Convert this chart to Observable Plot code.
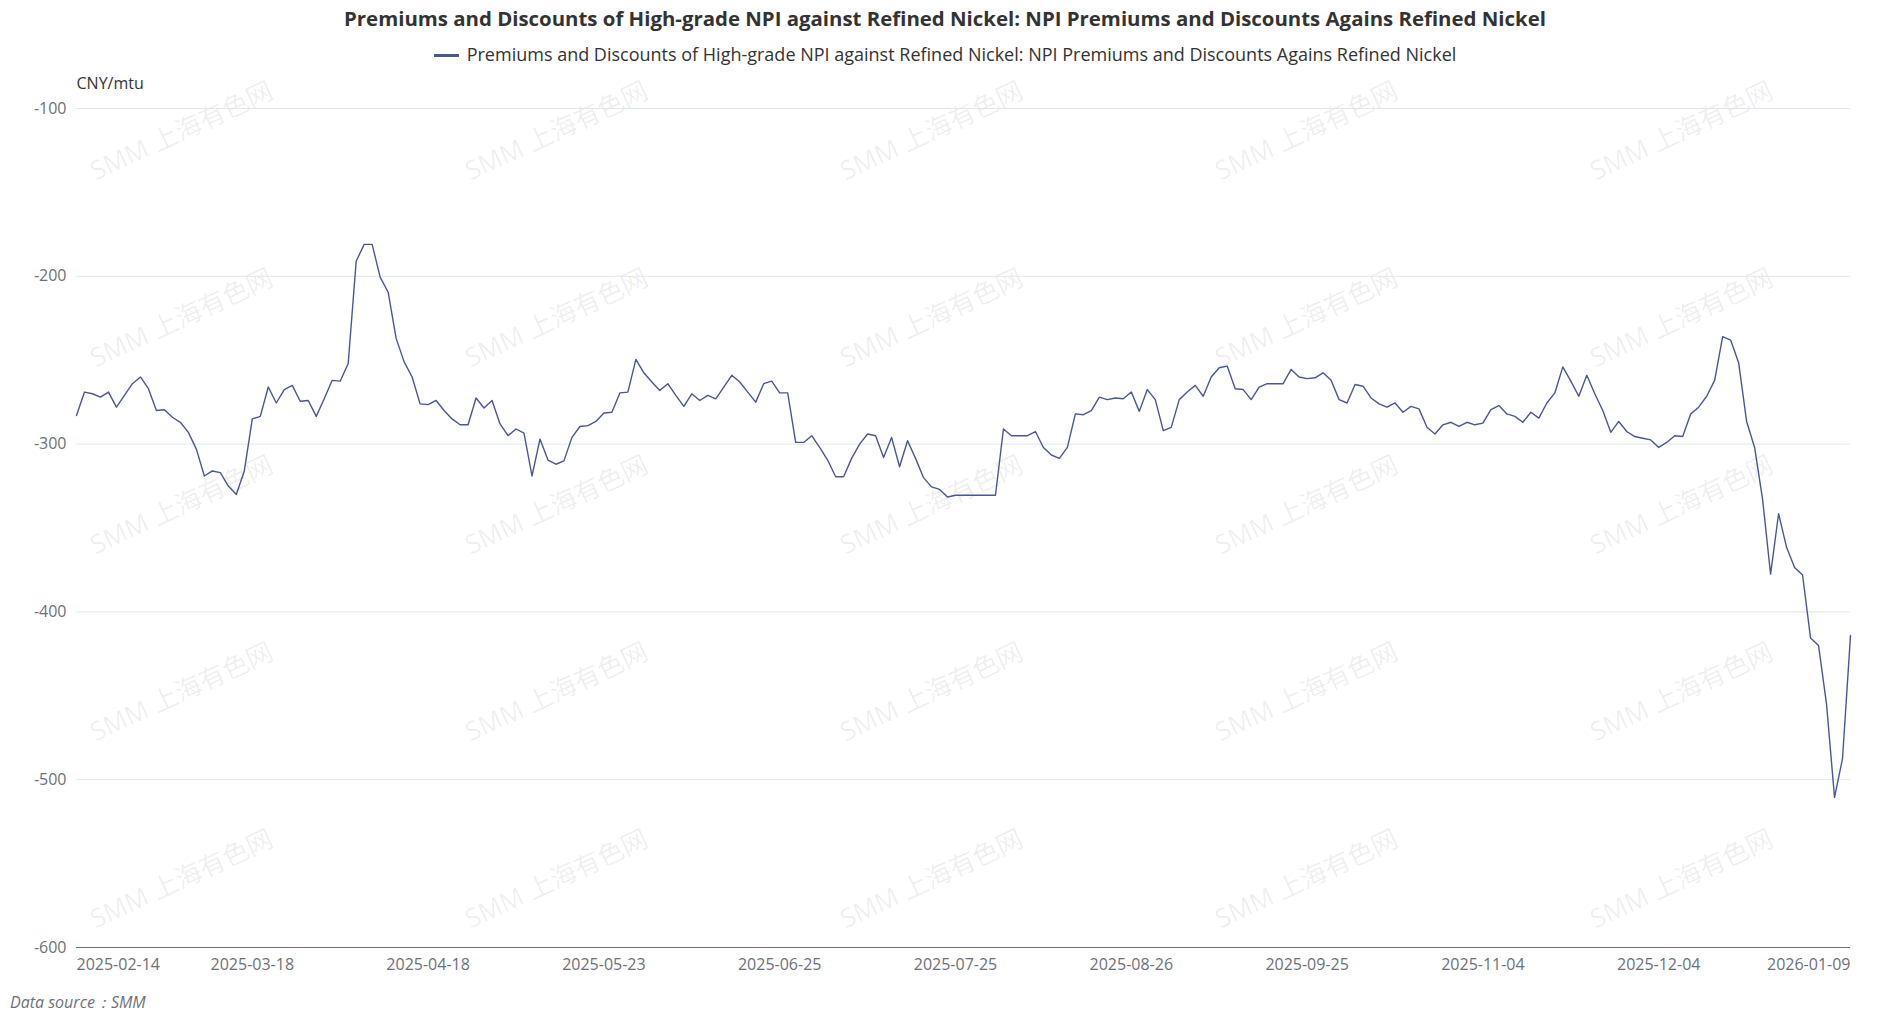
<!DOCTYPE html>
<html>
<head>
<meta charset="utf-8">
<script src="https://cdn.jsdelivr.net/npm/d3@7"></script>
<script src="https://cdn.jsdelivr.net/npm/@observablehq/plot@0.6"></script>
<style>
  html, body { margin: 0; padding: 0; background: #fff; }
  #page { position: relative; width: 1890px; height: 1017px; overflow: hidden; font-family: "Open Sans", "Noto Sans", sans-serif; }
  #title { position: absolute; left: 0; width: 1890px; top: 6px; text-align: center; font-size: 20.4px; line-height: 24px; font-weight: 700; color: #333; white-space: nowrap; }
  #legend { position: absolute; left: 0; width: 1890px; top: 43px; text-align: center; font-size: 18px; line-height: 22px; color: #333; white-space: nowrap; }
  #legend .swatch { display: inline-block; width: 25px; height: 3px; vertical-align: middle; margin-right: 8px; position: relative; top: -1px; }
  #chart { position: absolute; left: 0; top: 60px; }
  #caption { position: absolute; left: 10px; top: 992px; font-size: 16px; line-height: 20px; font-style: italic; color: #6e7079; white-space: nowrap; }
  #wm { position: absolute; left: 0; top: 0; width: 1890px; height: 1017px; pointer-events: none; }
  #wm div { position: absolute; font-size: 26px; line-height: 30px; color: rgba(0,0,0,0.075); white-space: nowrap; transform: translate(-50%, -50%) rotate(-25deg); font-family: "Open Sans", "Noto Sans CJK SC", sans-serif; }
</style>
</head>
<body>
<div id="page">
  <div id="wm"></div>
  <div id="title"></div>
  <div id="legend"></div>
  <div id="chart"></div>
  <div id="caption"></div>
</div>
<script>
// ---- data ----
const seriesName = "Premiums and Discounts of High-grade NPI against Refined Nickel: NPI Premiums and Discounts Agains Refined Nickel";
const titleText = "Premiums and Discounts of High-grade NPI against Refined Nickel: NPI Premiums and Discounts Agains Refined Nickel";
const unitLabel = "CNY/mtu";
const sourceText = "Data source：SMM";
const watermarkText = "SMM 上海有色网";

const tickIndex = [0, 22, 44, 66, 88, 110, 132, 154, 176, 198, 222];
const tickLabels = ["2025-02-14", "2025-03-18", "2025-04-18", "2025-05-23", "2025-06-25", "2025-07-25",
  "2025-08-26", "2025-09-25", "2025-11-04", "2025-12-04", "2026-01-09"];
const yTicks = [-600, -500, -400, -300, -200, -100];

const values = [
  -283, -269, -270, -272, -269, -278, -271, -264, -260, -267,
  -280, -279.5, -284, -287, -293, -303, -319, -316, -317, -325,
  -330, -316, -285, -283.5, -266, -275.5, -267.5, -265, -274.5, -274,
  -283.5, -273, -262, -262.5, -252, -191, -181, -181, -200.5, -209.5,
  -237, -251, -260, -276, -276.5, -274, -280, -285, -288.5, -288.5,
  -272.5, -278.5, -274, -288, -295, -291, -293.5, -319, -297, -309.5,
  -312, -310, -296, -289.5, -289, -286.5, -281.5, -281, -269.5, -269,
  -249.5, -257.5, -263, -268, -264, -271, -277.5, -270, -274, -271,
  -273, -266, -259, -263, -269, -275, -264, -262.5, -269.5, -269.5,
  -299, -299, -295, -302, -309.5, -319.5, -319.5, -308.5, -300, -294,
  -295, -308, -296, -313.5, -298, -308.5, -320, -325.5, -327, -331.5,
  -330.5, -330.5, -330.5, -330.5, -330.5, -330.5, -291, -295, -295, -295,
  -292.5, -302, -306.5, -308.5, -302, -282, -282.5, -280, -272, -273.5,
  -272.5, -273, -269, -280.5, -267.5, -273.5, -292, -290, -273.5, -269,
  -265, -271.5, -260, -254.5, -253.5, -267, -267.5, -273.5, -266, -264,
  -264, -264, -255.5, -260, -261, -260.5, -257.5, -262, -273.5, -275.5,
  -264.5, -265.5, -272.5, -276, -278, -275.5, -281, -277.5, -279, -290,
  -294, -288.5, -287, -289.5, -287, -288.5, -287.5, -279.5, -277, -282,
  -283.5, -287, -281, -284.5, -275.5, -269.5, -254, -262.5, -271.5, -259,
  -270, -280, -293, -286.5, -292.5, -295.5, -296.5, -297.5, -302, -299,
  -295, -295.5, -282, -278, -271.5, -262, -236, -238, -251.5, -286.5,
  -302, -333, -377.5, -341.5, -361.5, -373.5, -378, -415.5, -420, -455,
  -510.5, -487.5, -414
];

const lineColor = "#4a5797";

// ---- html text ----
document.getElementById("title").textContent = titleText;
const leg = document.getElementById("legend");
const sw = document.createElement("span");
sw.className = "swatch";
sw.style.background = lineColor;
leg.appendChild(sw);
leg.appendChild(document.createTextNode(seriesName));
document.getElementById("caption").textContent = sourceText;

// watermark grid (decorative)
const wm = document.getElementById("wm");
for (let r = 0; r < 5; r++) {
  for (let c = 0; c < 5; c++) {
    const d = document.createElement("div");
    d.textContent = watermarkText;
    d.style.left = (181 + c * 375) + "px";
    d.style.top = (130 + r * 187) + "px";
    wm.appendChild(d);
  }
}

// ---- chart ----
const fmtTick = i => tickLabels[tickIndex.indexOf(i)];
const n = values.length;
const chart = Plot.plot({
  width: 1890,
  height: 927,
  marginLeft: 76,
  marginRight: 40,
  marginTop: 48,
  marginBottom: 40,
  x: { domain: [0, n - 1] },
  y: { domain: [-600, -100] },
  style: { fontFamily: '"Open Sans", "Noto Sans", sans-serif', fontSize: "16px", color: "#6e7079", background: "transparent", overflow: "visible" },
  marks: [
    Plot.gridY(yTicks, { stroke: "#e0e6f1", strokeOpacity: 1 }),
    Plot.ruleY([-600], { stroke: "#6e7079", strokeWidth: 1 }),
    Plot.axisY(yTicks, { tickSize: 0, tickPadding: 10, label: null, tickFormat: d => String(d) }),
    Plot.axisX(tickIndex.slice(0, 1), { tickSize: 0, tickPadding: 11, label: null, textAnchor: "start", tickFormat: fmtTick }),
    Plot.axisX(tickIndex.slice(1, -1), { tickSize: 0, tickPadding: 11, label: null, tickFormat: fmtTick }),
    Plot.axisX(tickIndex.slice(-1), { tickSize: 0, tickPadding: 11, label: null, textAnchor: "end", tickFormat: fmtTick }),
    Plot.lineY(values, { x: (d, i) => i, y: d => d, stroke: lineColor, strokeWidth: 1.4 }),
    Plot.text([unitLabel], { frameAnchor: "top-left", dy: -31, textAnchor: "start", fill: "#333", fontSize: 16 })
  ]
});
document.getElementById("chart").appendChild(chart);
</script>
</body>
</html>
